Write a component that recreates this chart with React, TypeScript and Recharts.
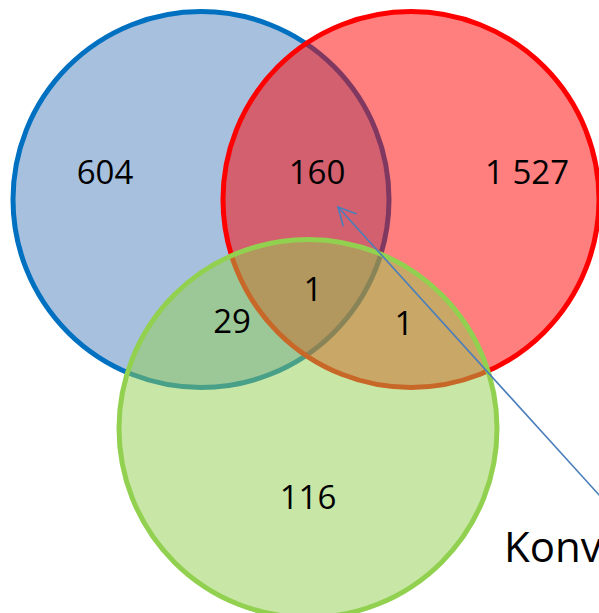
import React from 'react';
import { ScatterChart, Scatter, XAxis, YAxis } from 'recharts';

// ---- data ----
const setKeys = ['blue', 'red', 'green'];
const regionKeys = ['blueOnly', 'blueRed', 'redOnly', 'blueGreen', 'all', 'redGreen', 'greenOnly'];
const regionValues = [604, 160, 1527, 29, 1, 1, 116];
const calloutText = 'Konv';

// ---- layout / styles (pixel-space coordinates on a 599x613 canvas) ----
const W = 599;
const H = 613;
const circleLayout = [
  { x: 201, y: 199.5, r: 188, fill: '#4f81bd', stroke: '#0070c0' },
  { x: 411, y: 199.5, r: 188, fill: '#ff0000', stroke: '#ff0000' },
  { x: 308, y: 428.5, r: 189, fill: '#92d050', stroke: '#92d050' },
];
const labelLayout = [
  { x: 105, y: 172 },
  { x: 317, y: 172 },
  { x: 527, y: 172 },
  { x: 232, y: 321 },
  { x: 313, y: 289 },
  { x: 404, y: 323 },
  { x: 308, y: 497 },
];
const calloutLayout = { x: 504, y: 547 };
const arrowLayout = [
  { x: 620, y: 518, tip: false },
  { x: 338, y: 207, tip: true },
];

const fmt = (v: number) => String(v).replace(/\B(?=(\d{3})+(?!\d))/g, ' ');

const circleData = setKeys.map((k, i) => ({ key: k, ...circleLayout[i] }));
const labelData = regionKeys.map((k, i) => ({ key: k, label: fmt(regionValues[i]), ...labelLayout[i] }));
const calloutData = [{ key: 'callout', label: calloutText, ...calloutLayout }];

const FONT = '"Open Sans", "Noto Sans", sans-serif';
const ARROW = '#4a7ebb';

const CircleShape = (props: any) => {
  const { cx, cy, payload } = props;
  return (
    <circle
      cx={cx}
      cy={cy}
      r={payload.r}
      fill={payload.fill}
      fillOpacity={0.5}
      stroke={payload.stroke}
      strokeWidth={5}
    />
  );
};

const LabelShape = (props: any) => {
  const { cx, cy, payload } = props;
  return (
    <text x={cx} y={cy + 12} textAnchor="middle" fontFamily={FONT} fontSize={33} fill="#000">
      {payload.label}
    </text>
  );
};

const CalloutShape = (props: any) => {
  const { cx, cy, payload } = props;
  return (
    <text x={cx} y={cy + 15} textAnchor="start" fontFamily={FONT} fontSize={42} fill="#000">
      {payload.label}
    </text>
  );
};

const ArrowHeadShape = (props: any) => {
  const { cx, cy, payload } = props;
  if (!payload.tip) return <g />;
  const from = arrowLayout[0];
  // data units map 1:1 to pixels, y grows downward (reversed axis)
  const ang = Math.atan2(from.y - payload.y, from.x - payload.x);
  const len = 20;
  const spread = (27 * Math.PI) / 180;
  const w1x = cx + len * Math.cos(ang - spread);
  const w1y = cy + len * Math.sin(ang - spread);
  const w2x = cx + len * Math.cos(ang + spread);
  const w2y = cy + len * Math.sin(ang + spread);
  return (
    <polyline
      points={`${w1x},${w1y} ${cx},${cy} ${w2x},${w2y}`}
      fill="none"
      stroke={ARROW}
      strokeWidth={1.6}
    />
  );
};

export default function App() {
  return (
    <div style={{ position: 'absolute', left: 0, top: 0, width: W, height: H, background: '#fff', overflow: 'hidden' }}>
      <ScatterChart width={W} height={H} margin={{ top: 0, right: 0, bottom: 0, left: 0 }}>
        <XAxis type="number" dataKey="x" domain={[0, W]} hide allowDataOverflow />
        <YAxis type="number" dataKey="y" domain={[0, H]} reversed hide allowDataOverflow />
        <Scatter data={circleData} shape={CircleShape} isAnimationActive={false} />
        <Scatter data={labelData} shape={LabelShape} isAnimationActive={false} />
        <Scatter data={calloutData} shape={CalloutShape} isAnimationActive={false} />
        <Scatter
          data={arrowLayout}
          shape={ArrowHeadShape}
          line={{ stroke: ARROW, strokeWidth: 1.6 }}
          isAnimationActive={false}
        />
      </ScatterChart>
    </div>
  );
}
